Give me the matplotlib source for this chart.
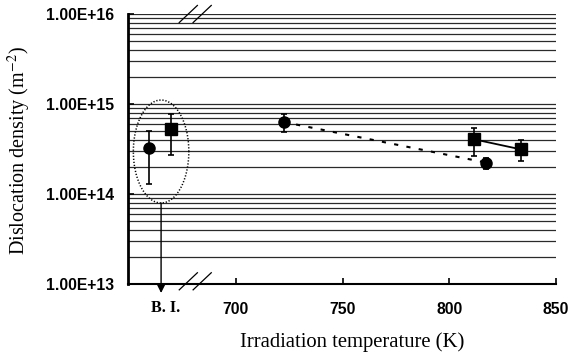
import numpy as np
import matplotlib
matplotlib.use("Agg")
import matplotlib.pyplot as plt
from matplotlib.ticker import LogLocator, NullFormatter, FixedLocator

plt.rcParams["mathtext.fontset"] = "stix"

# ---- data ----
bi_x = 665
circ_x = [659.3, 722.5, 817.4]
circ_y = [3.27e14, 6.3e14, 2.23e14]
circ_lo = [1.3e14, 4.9e14, 1.9e14]
circ_hi = [5.05e14, 7.8e14, 2.5e14]
sq_x = [669.5, 811.7, 833.6]
sq_y = [5.28e14, 4.05e14, 3.13e14]
sq_lo = [2.7e14, 2.64e14, 2.34e14]
sq_hi = [7.7e14, 5.45e14, 3.98e14]
xticks = [700, 750, 800, 850]
xticklabels = ["700", "750", "800", "850"]
yticks = [1e13, 1e14, 1e15, 1e16]
yticklabels = ["1.00E+13", "1.00E+14", "1.00E+15", "1.00E+16"]

fig = plt.figure(figsize=(5.71, 3.54), dpi=100)
ax = fig.add_axes([128/571, 70/354, 428/571, 270/354])
ax.set_yscale("log")
ax.set_xlim(649.5, 850)
ax.set_ylim(1e13, 1e16)

# grid
ax.yaxis.set_major_locator(FixedLocator(yticks))
ax.yaxis.set_minor_locator(LogLocator(base=10, subs=np.arange(2, 10)))
ax.yaxis.set_minor_formatter(NullFormatter())
ax.grid(True, which="both", axis="y", color="#2a2a2a", lw=0.9)
ax.set_axisbelow(True)
ax.tick_params(axis="y", which="minor", length=0)
ax.tick_params(axis="y", which="major", direction="in", length=4, width=1.2, pad=10)
ax.set_yticklabels(yticklabels, fontfamily="Liberation Sans", fontweight="bold", fontsize=11.3)
ax.set_xticks(xticks)
ax.set_xticklabels(xticklabels, fontfamily="Liberation Sans", fontweight="bold", fontsize=11.3)
ax.tick_params(axis="x", direction="in", length=4, width=1.2, pad=13)

for s in ["top", "right"]:
    ax.spines[s].set_visible(False)
ax.spines["left"].set_linewidth(2)
ax.spines["bottom"].set_linewidth(1.5)

# lines between points
ax.plot(circ_x[1:], circ_y[1:], ls=(0, (2, 4)), color="black", lw=1.5)
ax.plot(sq_x[1:], sq_y[1:], ls="-", color="black", lw=1.3)

# error bars + markers
circ_err = [np.array(circ_y) - np.array(circ_lo), np.array(circ_hi) - np.array(circ_y)]
sq_err = [np.array(sq_y) - np.array(sq_lo), np.array(sq_hi) - np.array(sq_y)]
ax.errorbar(circ_x, circ_y, yerr=circ_err, fmt="o", color="black", ms=8,
            capsize=2.5, elinewidth=1.2, capthick=1.2)
ax.errorbar(sq_x, sq_y, yerr=sq_err, fmt="s", color="black", ms=9,
            capsize=2.5, elinewidth=1.2, capthick=1.2)

# dotted ellipse around B.I. points (log-space)
t = np.linspace(0, 2*np.pi, 200)
cy, by = (15.044 + 13.9)/2, (15.044 - 13.9)/2
ex = bi_x + 13.0*np.cos(t)
ey = 10**(cy + by*np.sin(t))
ax.plot(ex, ey, ls=(0, (0.8, 1.2)), color="black", lw=1.1)

# arrow down from ellipse
ax.annotate("", xy=(bi_x, 10**12.9), xytext=(bi_x, 10**13.9),
            arrowprops=dict(arrowstyle="-|>", color="black", lw=1, mutation_scale=12,
                            shrinkA=0, shrinkB=0), annotation_clip=False)
ax.text(bi_x + 2.2, 10**12.73, "B. I.", ha="center", va="center", fontfamily="Liberation Serif",
        fontweight="bold", fontsize=11.5, clip_on=False)

# axis break marks
for x0 in [673.5, 680.0]:
    for ylog in [13.03, 16.0]:
        ax.plot([x0, x0 + 8.5], [10**(ylog - 0.095), 10**(ylog + 0.095)], color="black", lw=0.9,
                clip_on=False)

ax.set_xlabel("Irradiation temperature (K)", fontfamily="Liberation Serif", fontsize=14.9)
ax.set_ylabel("Dislocation density (m$^{-2}$)", fontfamily="Liberation Serif", fontsize=14.5)
ax.xaxis.set_label_coords(0.5245, -0.18)
ax.yaxis.set_label_coords(-0.222, 0.496)

fig.savefig("out.png", dpi=100)
